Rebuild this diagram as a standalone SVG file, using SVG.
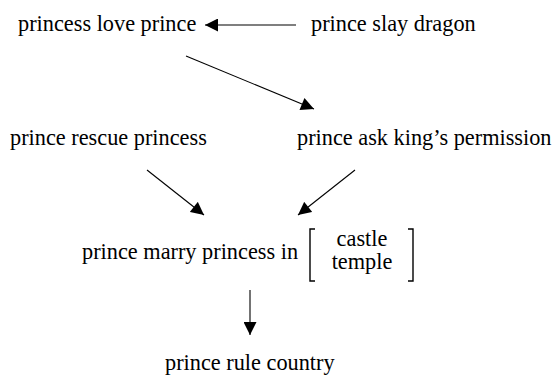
<svg xmlns="http://www.w3.org/2000/svg" width="557" height="376" viewBox="0 0 557 376">
<style>
text{font-family:"Liberation Serif","Times New Roman",serif;font-size:22.3px;fill:#000}
.c{stroke:#000;stroke-width:1.1;fill:none}
.b{stroke:#000;stroke-width:1.4;fill:none}
</style>
<defs>
<marker id="ah" viewBox="0 0 10 10" refX="10" refY="5" markerWidth="14" markerHeight="13" markerUnits="userSpaceOnUse" orient="auto">
<path d="M0,0 L10,5 L0,10 z" fill="#000"/>
</marker>
</defs>
<rect width="557" height="376" fill="#fff"/>
<g id="n1"><text x="18" y="31">princess love prince</text></g>
<g id="n2"><text x="311" y="31">prince slay dragon</text></g>
<g id="n3"><text x="10" y="145">prince rescue princess</text></g>
<g id="n4"><text x="297" y="145">prince ask king’s permission</text></g>
<g id="n5">
<text x="82" y="259">prince marry princess in</text>
<path class="b" d="M315,229 H310 V281 H315"/>
<path class="b" d="M408,229 H413 V281 H408"/>
<text x="362" y="246" text-anchor="middle">castle</text>
<text x="362" y="269" text-anchor="middle">temple</text>
</g>
<g id="n6"><text x="165" y="370">prince rule country</text></g>
<g id="connectors">
<line class="c" x1="296" y1="25" x2="205" y2="25" marker-end="url(#ah)"/>
<line class="c" x1="186" y1="56" x2="314" y2="109" marker-end="url(#ah)"/>
<line class="c" x1="147" y1="170" x2="204" y2="215" marker-end="url(#ah)"/>
<line class="c" x1="355" y1="170" x2="298" y2="215" marker-end="url(#ah)"/>
<line class="c" x1="250" y1="290" x2="250" y2="335" marker-end="url(#ah)"/>
</g>
</svg>
